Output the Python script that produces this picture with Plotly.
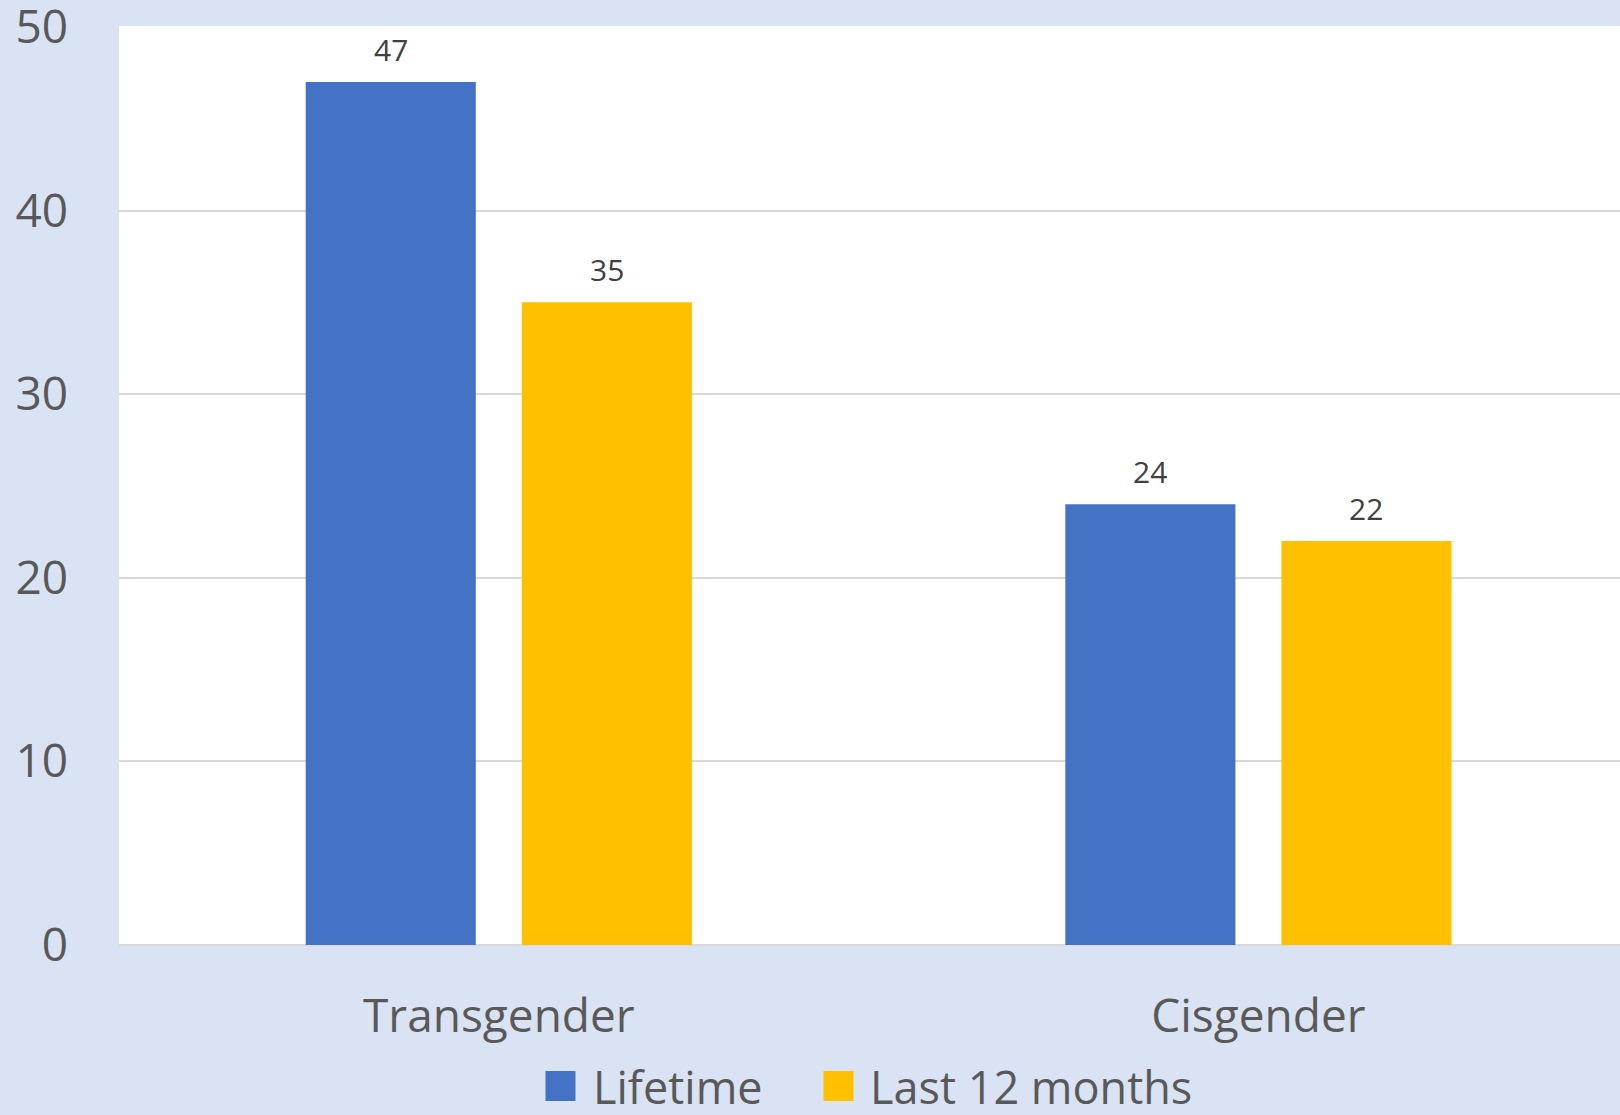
import plotly.graph_objects as go

categories = ["Transgender", "Cisgender"]
lifetime = [47, 24]
last12 = [35, 22]
series_names = ["Lifetime", "Last 12 months"]
y_ticks = [0, 10, 20, 30, 40, 50]

BLUE = "#4472C4"
GOLD = "#FFC000"
BG = "#DAE3F3"
FONT = "Open Sans"
TXT = "#595959"

W, H = 1620, 1115
ML, MR, MT, MB = 119, 0, 26, 170
PW, PH = W - ML - MR, H - MT - MB

def px_x(px):
    return (px - ML) / PW

def px_y(py):
    return (H - MB - py) / PH

fig = go.Figure()
series = [(series_names[0], lifetime, BLUE), (series_names[1], last12, GOLD)]
for name, vals, col in series:
    fig.add_trace(go.Bar(
        x=categories, y=vals, name=name,
        marker=dict(color=col, line=dict(width=0)),
        showlegend=False,
    ))

# data labels above bars
for i, (name, vals, col) in enumerate(series):
    shift = -108 if i == 0 else 108
    for c, v in zip(categories, vals):
        fig.add_annotation(x=c, y=v, text=str(v), showarrow=False, xshift=shift,
                           yanchor="bottom", yshift=10,
                           font=dict(family=FONT, size=30, color="#404040"))

# legend (drawn to match the large square keys)
legend_pos = [(545.5, 591), (823.5, 868)]
LEG_CY = 1086
for (sq_x, tx_x), (name, vals, col) in zip(legend_pos, series):
    fig.add_shape(type="rect", xref="paper", yref="paper",
                  x0=px_x(sq_x), x1=px_x(sq_x + 30), y0=px_y(LEG_CY + 15), y1=px_y(LEG_CY - 15),
                  fillcolor=col, line=dict(width=0))
    fig.add_annotation(xref="paper", yref="paper", x=px_x(tx_x), y=px_y(LEG_CY),
                       xanchor="left", yanchor="middle", text=name, showarrow=False,
                       font=dict(family=FONT, size=45, color=TXT))

fig.update_layout(
    width=W, height=H,
    paper_bgcolor=BG, plot_bgcolor="white",
    margin=dict(l=ML, r=MR, t=MT, b=MB, pad=0, autoexpand=False),
    barmode="group", bargap=0.431, bargroupgap=0.213,
    font=dict(family=FONT, color=TXT),
    showlegend=False,
    xaxis=dict(range=[-0.5, 1.476], showgrid=False, zeroline=False, showline=False,
               automargin=False,
               ticks="", tickfont=dict(family=FONT, size=46, color=TXT),
               ticklabelstandoff=40),
    yaxis=dict(range=[0, 50.05], tickvals=y_ticks, showgrid=True, gridcolor="#D9D9D9",
               gridwidth=2, zeroline=True, zerolinecolor="#D9D9D9", zerolinewidth=2,
               automargin=False,
               showline=False, ticks="", tickfont=dict(family=FONT, size=46, color=TXT),
               ticklabelstandoff=50, ticklabeloverflow="allow"),
)

fig.write_html("out.html", config={"displayModeBar": False},
               post_script="document.body.style.margin='0';")
